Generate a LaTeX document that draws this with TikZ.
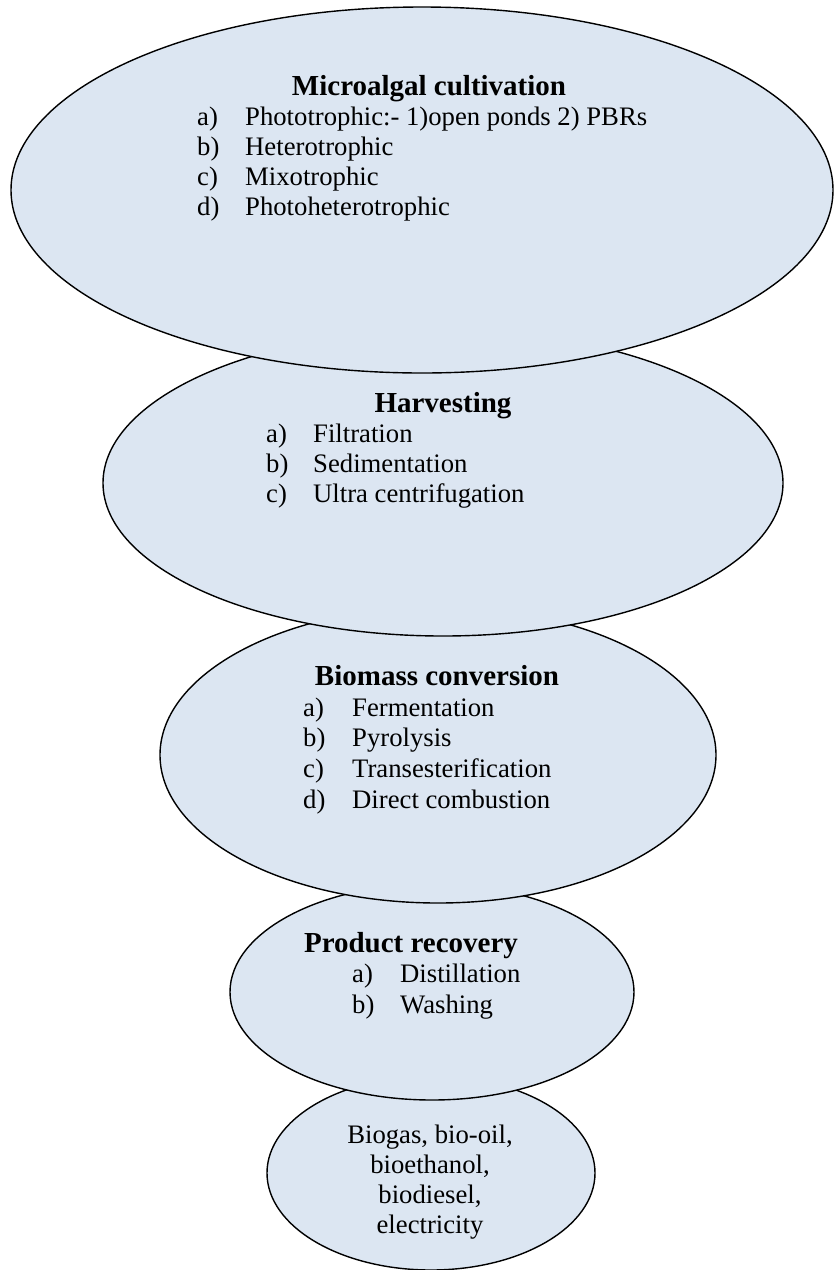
\documentclass[tikz,border=0pt]{standalone}
\usepackage{fontspec}
\setmainfont{Liberation Serif}
\usepackage{tikz}
\usetikzlibrary{shapes.geometric}
\definecolor{StageFill}{HTML}{DCE6F2}
\tikzset{
  stageellipse/.style={ellipse, draw=black, fill=StageFill, line width=1.4pt, inner sep=0pt},
  titletext/.style={anchor=base, inner sep=0pt, font=\fontsize{29pt}{33pt}\selectfont\bfseries},
  itemlabel/.style={anchor=base west, inner sep=0pt, font=\fontsize{26.7pt}{30.5pt}\selectfont},
  itemtext/.style={anchor=base west, inner sep=0pt, font=\fontsize{26.7pt}{30.5pt}\selectfont},
  producttext/.style={anchor=base, inner sep=0pt, font=\fontsize{26.7pt}{30.5pt}\selectfont}
}

\begin{document}
\begin{tikzpicture}[x=1pt, y=-1pt]
  \useasboundingbox (0,0) rectangle (834,1270);

  % Stages (lowest first, so each upper one overlaps the next)
  \node[stageellipse, minimum width=328pt, minimum height=194pt] (products) at (431,1173) {};
  \node[stageellipse, minimum width=404pt, minimum height=216pt] (recovery) at (432,992) {};
  \node[stageellipse, minimum width=556pt, minimum height=296pt] (conversion) at (438,755) {};
  \node[stageellipse, minimum width=680pt, minimum height=306pt] (harvest) at (443,483) {};
  \node[stageellipse, minimum width=822pt, minimum height=366pt] (cultivation) at (422,190) {};

  % Microalgal cultivation
  \node[titletext] (cultTitle) at (429,95) {Microalgal cultivation};
  \foreach \i/\lbl/\txt in {0/a)/{Phototrophic:- 1)open ponds 2) PBRs}, 1/b)/Heterotrophic, 2/c)/Mixotrophic, 3/d)/Photoheterotrophic} {
    \node[itemlabel] (cultLbl\i) at (197,{125+30.3*\i}) {\lbl};
    \node[itemtext] (cultItem\i) at (245,{125+30.3*\i}) {\txt};
  }

  % Harvesting
  \node[titletext] (harvTitle) at (443,412) {Harvesting};
  \foreach \i/\lbl/\txt in {0/a)/Filtration, 1/b)/Sedimentation, 2/c)/{Ultra centrifugation}} {
    \node[itemlabel] (harvLbl\i) at (266,{442+30*\i}) {\lbl};
    \node[itemtext] (harvItem\i) at (313,{442+30*\i}) {\txt};
  }

  % Biomass conversion
  \node[titletext] (convTitle) at (437,685) {Biomass conversion};
  \foreach \i/\lbl/\txt in {0/a)/Fermentation, 1/b)/Pyrolysis, 2/c)/Transesterification, 3/d)/{Direct combustion}} {
    \node[itemlabel] (convLbl\i) at (303,{716+30.7*\i}) {\lbl};
    \node[itemtext] (convItem\i) at (352,{716+30.7*\i}) {\txt};
  }

  % Product recovery
  \node[titletext] (recTitle) at (411,952) {Product recovery};
  \foreach \i/\lbl/\txt in {0/a)/Distillation, 1/b)/Washing} {
    \node[itemlabel] (recLbl\i) at (352,{982+31*\i}) {\lbl};
    \node[itemtext] (recItem\i) at (400,{982+31*\i}) {\txt};
  }

  % Final products
  \foreach \i/\txt in {0/{Biogas, bio-oil,}, 1/{bioethanol,}, 2/{biodiesel,}, 3/electricity} {
    \node[producttext] (prodLine\i) at (430,{1143+30*\i}) {\txt};
  }
\end{tikzpicture}
\end{document}
